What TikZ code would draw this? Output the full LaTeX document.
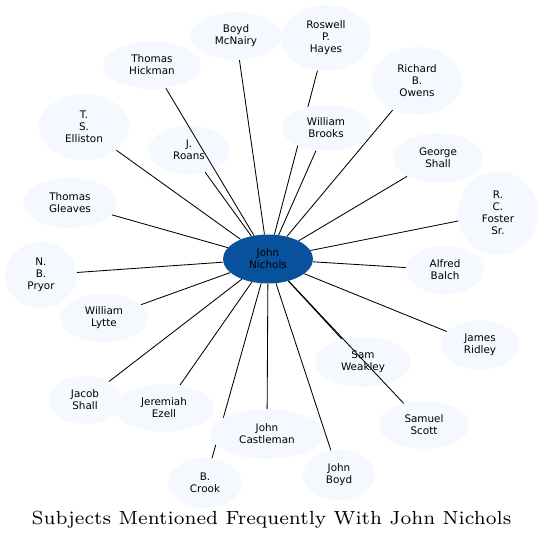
\documentclass[tikz,border=0pt]{standalone}
\usepackage{fontspec}
\newfontfamily\nodefont{DejaVu Sans}
\newfontfamily\titlefont[Extension=.otf]{lmroman7-regular}
\usetikzlibrary{shapes.geometric,backgrounds}
\definecolor{leaf}{HTML}{F5F9FF}
\definecolor{hub}{HTML}{08519C}
\tikzset{
  leafnode/.style={ellipse, fill=leaf, inner sep=0pt, align=center,
    font=\nodefont\fontsize{10.4}{12}\selectfont, text=black},
  hubnode/.style={leafnode, fill=hub, text=black},
  link/.style={draw=black, line width=0.85pt},
}
\newcommand{\leaf}[5]{\node[leafnode, minimum width=#3pt, minimum height=#4pt] (#1) at (#2) {#5};}
\begin{document}
\begin{tikzpicture}[x=1pt,y=-1pt]
\useasboundingbox (0,0) rectangle (544,544);
\node[hubnode, minimum width=90pt, minimum height=49pt] (jn) at (268,259) {John\\Nichols};
\leaf{bm}{236,36}{92}{48}{Boyd\\McNairy}
\leaf{rph}{326,38}{90}{66}{Roswell\\P.\\Hayes}
\leaf{wb}{326,128}{88}{46}{William\\Brooks}
\leaf{th}{152,65}{98}{48}{Thomas\\Hickman}
\leaf{tse}{84,127}{90}{66}{T.\\S.\\Elliston}
\leaf{jr}{189,150}{82}{48}{J.\\Roans}
\leaf{tg}{70,203}{94}{50}{Thomas\\Gleaves}
\leaf{nbp}{41,275}{72}{66}{N.\\B.\\Pryor}
\leaf{wl}{104,318}{88}{48}{William\\Lytte}
\leaf{js}{85,400}{74}{48}{Jacob\\Shall}
\leaf{je}{164,408}{100}{48}{Jeremiah\\Ezell}
\leaf{jc}{267,434}{114}{50}{John\\Castleman}
\leaf{bc}{205,483}{74}{50}{B.\\Crook}
\leaf{jb}{339,475}{72}{50}{John\\Boyd}
\leaf{ss}{424,425}{90}{48}{Samuel\\Scott}
\leaf{sw}{363,362}{96}{50}{Sam\\Weakley}
\leaf{jri}{480,345}{78}{50}{James\\Ridley}
\leaf{rbo}{417,81}{90}{68}{Richard\\B.\\Owens}
\leaf{gs}{438,158}{90}{50}{George\\Shall}
\leaf{rcf}{498,213}{80}{84}{R.\\C.\\Foster\\Sr.}
\leaf{ab}{445,270}{78}{48}{Alfred\\Balch}
\begin{pgfonlayer}{background}
\foreach \t in {bm,rph,wb,tse,jr,tg,nbp,wl,js,je,jc,bc,jb,sw,jri,rbo,gs,rcf,ab}
  \draw[link] (jn) -- (\t);
\end{pgfonlayer}
\draw[link] (jn) -- (th);
\draw[link] (jn) -- (ss);
\node[inner sep=0pt, anchor=base] (title) at (271.5,524.5) {\titlefont\fontsize{19}{22}\selectfont Subjects Mentioned Frequently With John Nichols};
\end{tikzpicture}
\end{document}
